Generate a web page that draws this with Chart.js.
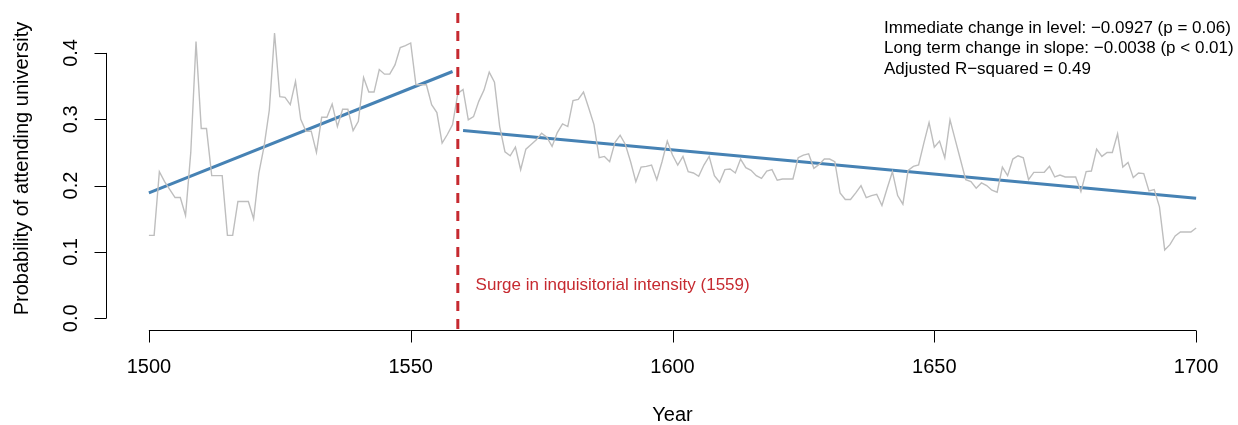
<!DOCTYPE html>
<html>
<head>
<meta charset="utf-8">
<title>Probability of attending university</title>
<script src="https://cdn.jsdelivr.net/npm/chart.js@4.4.1/dist/chart.umd.min.js"></script>
<style>
  html,body{ margin:0; padding:0; background:#fff; }
  #wrap{ width:1238px; height:425px; position:relative; }
</style>
</head>
<body>
<div id="wrap"><canvas id="its"></canvas></div>
<script>
// its chart — series + segmented fit + annotations

const FIRST_YEAR = 1500;
// yearly probability, 1500..1700
const probValues = [
  0.125,0.125,0.221,0.206,0.194,0.182,0.182,0.155,0.250,0.417, // 1500
  0.286,0.286,0.215,0.215,0.215,0.125,0.125,0.176,0.176,0.176, // 1510
  0.150,0.219,0.259,0.314,0.430,0.334,0.333,0.322,0.357,0.300, // 1520
  0.282,0.282,0.250,0.303,0.303,0.323,0.289,0.315,0.315,0.283, // 1530
  0.297,0.363,0.341,0.341,0.375,0.368,0.368,0.382,0.408,0.411, // 1540
  0.415,0.352,0.352,0.352,0.322,0.310,0.264,0.277,0.292,0.339, // 1550
  0.345,0.299,0.304,0.327,0.344,0.371,0.356,0.289,0.251,0.245, // 1560
  0.258,0.224,0.255,0.262,0.269,0.279,0.273,0.259,0.280,0.293, // 1570
  0.289,0.328,0.330,0.341,0.317,0.292,0.242,0.244,0.236,0.265, // 1580
  0.276,0.262,0.236,0.206,0.228,0.229,0.231,0.209,0.236,0.267, // 1590
  0.246,0.231,0.244,0.221,0.219,0.214,0.231,0.244,0.215,0.205, // 1600
  0.224,0.225,0.219,0.240,0.227,0.223,0.215,0.211,0.222,0.224, // 1610
  0.208,0.210,0.210,0.210,0.242,0.246,0.248,0.226,0.232,0.240, // 1620
  0.240,0.236,0.189,0.179,0.179,0.189,0.200,0.182,0.185,0.187, // 1630
  0.170,0.196,0.221,0.185,0.172,0.223,0.229,0.231,0.264,0.295, // 1640
  0.258,0.267,0.242,0.299,0.269,0.239,0.209,0.206,0.196,0.204, // 1650
  0.200,0.193,0.190,0.228,0.215,0.240,0.245,0.242,0.209,0.220, // 1660
  0.220,0.220,0.229,0.213,0.216,0.213,0.213,0.213,0.191,0.221, // 1670
  0.222,0.255,0.244,0.250,0.250,0.278,0.228,0.235,0.212,0.219, // 1680
  0.218,0.192,0.194,0.168,0.103,0.111,0.124,0.130,0.130,0.130, // 1690
  0.136                                                        // 1700
];

// fitted segments (before / after the intervention)
const fitBeforeYears = [1500, 1558];
const fitBeforeValues = [0.189, 0.372];
const fitAfterYears = [1560, 1700];
const fitAfterValues = [0.283, 0.181];

const interventionYear = 1559;
const interventionLabel = 'Surge in inquisitorial intensity (1559)';
const xTicks = [1500, 1550, 1600, 1650, 1700];
const yTicks = [0.0, 0.1, 0.2, 0.3, 0.4];
const yTickLabels = ['0.0', '0.1', '0.2', '0.3', '0.4'];
const statLines = [
  'Immediate change in level: \u22120.0927 (p = 0.06)',
  'Long term change in slope: \u22120.0038 (p < 0.01)',
  'Adjusted R\u2212squared = 0.49'
];

const FONT = '"Liberation Sans", Arial, Helvetica, sans-serif';
const GREY = '#bebebe';
const STEEL = '#4682b4';
const RED = '#c62a30';

function pts(xs, ys){ return xs.map((x,i)=>({ x, y: ys[i] })); }
const probPoints = probValues.map((v,i)=>({ x: FIRST_YEAR + i, y: v }));

// R-style detached axes, labels and annotations
const rDecor = {
  id: 'rDecor',
  afterDatasetsDraw(chart){
    const { ctx, chartArea: a, scales:{ x, y } } = chart;
    ctx.save();

    // intervention line
    const vx = x.getPixelForValue(interventionYear);
    ctx.strokeStyle = RED;
    ctx.lineWidth = 3;
    ctx.setLineDash([10, 8]);
    ctx.beginPath();
    ctx.moveTo(vx, a.top);
    ctx.lineTo(vx, a.bottom);
    ctx.stroke();
    ctx.setLineDash([]);

    ctx.fillStyle = RED;
    ctx.font = '17px ' + FONT;
    ctx.textAlign = 'left';
    ctx.textBaseline = 'middle';
    ctx.fillText(interventionLabel, x.getPixelForValue(1562.4), y.getPixelForValue(0.05));

    // axes
    ctx.strokeStyle = '#000';
    ctx.lineWidth = 1;
    const tick = 12;

    const x0 = x.getPixelForValue(xTicks[0]), x1 = x.getPixelForValue(xTicks[xTicks.length-1]);
    const ay = Math.round(a.bottom) + 0.5;
    ctx.beginPath();
    ctx.moveTo(x0, ay); ctx.lineTo(x1, ay);
    xTicks.forEach(t=>{
      const px = Math.round(x.getPixelForValue(t)) + 0.5;
      ctx.moveTo(px, ay); ctx.lineTo(px, ay + tick);
    });
    const ax = Math.round(a.left) - 0.5;
    const y0 = y.getPixelForValue(yTicks[0]), y1 = y.getPixelForValue(yTicks[yTicks.length-1]);
    ctx.moveTo(ax, y0); ctx.lineTo(ax, y1);
    yTicks.forEach(t=>{
      const py = Math.round(y.getPixelForValue(t)) + 0.5;
      ctx.moveTo(ax, py); ctx.lineTo(ax - tick, py);
    });
    ctx.stroke();

    ctx.fillStyle = '#000';
    ctx.font = '20px ' + FONT;
    ctx.textAlign = 'center';
    ctx.textBaseline = 'middle';
    xTicks.forEach(t=> ctx.fillText(String(t), x.getPixelForValue(t), ay + 37));
    ctx.fillText('Year', (a.left + a.right)/2, 415);

    yTicks.forEach((t,i)=>{
      ctx.save();
      ctx.translate(ax - 35, y.getPixelForValue(t));
      ctx.rotate(-Math.PI/2);
      ctx.fillText(yTickLabels[i], 0, 0);
      ctx.restore();
    });
    ctx.save();
    ctx.translate(22, (a.top + a.bottom)/2 - 3);
    ctx.rotate(-Math.PI/2);
    ctx.fillText('Probability of attending university', 0, 0);
    ctx.restore();

    // fit stats, top right
    ctx.font = '17px ' + FONT;
    ctx.textAlign = 'left';
    statLines.forEach((s,i)=> ctx.fillText(s, 884, 28 + i*20.5));

    ctx.restore();
  }
};

new Chart(document.getElementById('its'), {
  type: 'line',
  data: {
    datasets: [
      { data: probPoints, borderColor: GREY, borderWidth: 1.4, pointRadius: 0, tension: 0 },
      { data: pts(fitBeforeYears, fitBeforeValues), borderColor: STEEL, borderWidth: 3, pointRadius: 0 },
      { data: pts(fitAfterYears, fitAfterValues), borderColor: STEEL, borderWidth: 3, pointRadius: 0 }
    ]
  },
  options: {
    responsive: true,
    maintainAspectRatio: false,
    animation: false,
    events: [],
    layout: { padding: { left: 107, right: 0, top: 13, bottom: 95 } },
    plugins: { legend: { display: false }, tooltip: { enabled: false } },
    scales: {
      x: { type: 'linear', min: 1492, max: 1708, display: false },
      y: { type: 'linear', min: -0.0177, max: 0.4602, display: false }
    }
  },
  plugins: [rDecor]
});
</script>
</body>
</html>
